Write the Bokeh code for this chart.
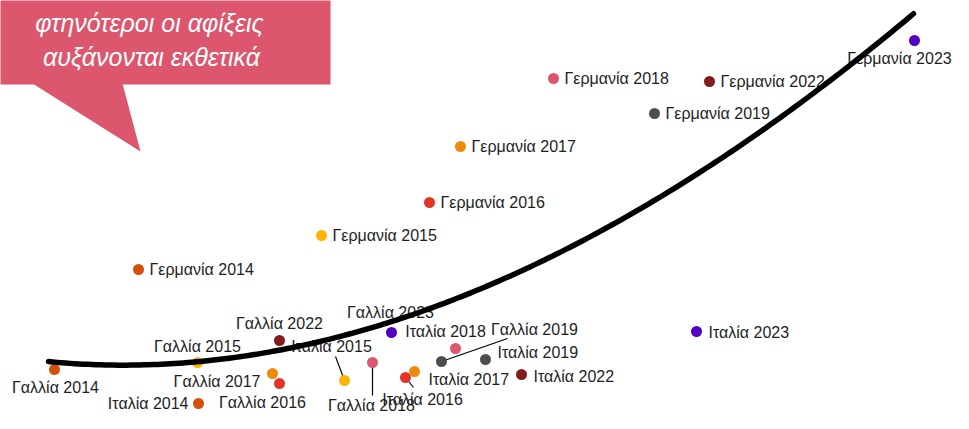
import numpy as np
from bokeh.plotting import figure
from bokeh.models import Range1d, BoxAnnotation, PolyAnnotation, Label
from bokeh.embed import file_html
from bokeh.resources import INLINE
from bokeh.core.properties import value

# ---------------- data ----------------
years = [2014, 2015, 2016, 2017, 2018, 2019, 2022, 2023]
year_colors = ["#D2500A", "#FFB400", "#E3342A", "#EB8C0A", "#DC566D", "#4D4D4D", "#821C1C", "#5200C2"]

# x: cost index, y: arrivals index (arbitrary units)
germany_x = [138, 321, 429, 460, 553, 654, 709, 914]
germany_y = [160, 194, 227, 283, 351, 316, 348, 389]
france_x = [54, 197, 279, 272, 372, 441, 279, 391]
france_y = [60, 67, 46, 56, 67, 68, 89, 97]
italy_x = [198, 344, 405, 414, 455, 485, 521, 696]
italy_y = [26, 49, 52, 58, 81, 70, 55, 98]

country_names = ["Γερμανία", "Γαλλία", "Ιταλία"]

# fitted trend, points (smoothed below)
trend_x = [48, 100, 150, 197, 240, 280, 330, 383, 440, 490, 540, 590, 640, 690, 740, 773, 800, 827, 850, 873, 913]
trend_y = [67, 65.5, 65.5, 67, 72, 80, 92, 106, 126, 144, 166, 191, 219, 252, 286, 309, 328, 347, 364, 382, 415]

callout_lines = ["φτηνότεροι οι αφίξεις", "αυξάνονται εκθετικά"]

# ---------------- label layout (screen px offsets: dx right, dy down) ----------------
germany_lab = [("left", 11, 0)] * 7 + [("center", -15, 17.5)]
france_lab = [("center", 1, 18), ("center", 0, -16), ("center", -17, 19), ("right", -12, 8),
              ("center", -1, 43), ("center", 93, -32), ("center", 0, -17), ("center", -1, -20)]
italy_lab = [("right", -10, 0), ("center", -13, -34), ("center", 17, 22), ("left", 14, 8),
             ("center", -10, -17), ("left", 12, -7), ("left", 12, 1.5), ("left", 12, 0.5)]
# leader lines: (country index, year index, dx, dy) of the end point
leaders = [(1, 4, 0, 33), (1, 5, 66, -23), (2, 1, -9, -24), (2, 2, 8, 10)]

xs_all = [germany_x, france_x, italy_x]
ys_all = [germany_y, france_y, italy_y]
labs_all = [germany_lab, france_lab, italy_lab]

W, H = 953, 413
p = figure(width=W, height=H, x_range=Range1d(0, W), y_range=Range1d(429 - H, 429),
           min_border=0, toolbar_location=None, output_backend="svg",
           x_axis_location=None, y_axis_location=None)
p.grid.visible = False
p.outline_line_color = None
p.background_fill_color = "white"
p.border_fill_color = "white"

# callout
pink = "#DC566D"
p.add_layout(BoxAnnotation(left=-20, right=330, bottom=345, top=450, fill_color=pink, fill_alpha=1,
                           line_color=None, level="underlay"))
p.add_layout(PolyAnnotation(xs=[32, 122, 140], ys=[346, 346, 278], fill_color=pink, fill_alpha=1,
                            line_color=None, level="underlay"))
for txt, cx, cy in zip(callout_lines, [149, 151], [406.5, 372.5]):
    p.add_layout(Label(x=cx, y=cy, text=txt, text_align="center", text_baseline="alphabetic",
                       text_font="Liberation Sans", text_font_style="italic",
                       text_font_size="25px", text_color="white"))

# leader lines
lx0, ly0, lx1, ly1 = [], [], [], []
for ci, yi, dx, dy in leaders:
    x0 = xs_all[ci][yi]
    y0 = ys_all[ci][yi]
    lx0.append(x0); ly0.append(y0); lx1.append(x0 + dx); ly1.append(y0 - dy)
p.segment(x0=lx0, y0=ly0, x1=lx1, y1=ly1, line_color="black", line_width=1.2)

# points
px, py, pc = [], [], []
for xs, ys in zip(xs_all, ys_all):
    px += xs; py += ys; pc += year_colors
p.scatter(x=px, y=py, size=11, fill_color=pc, line_color=None)

# labels
groups = {"left": ([], [], []), "center": ([], [], []), "right": ([], [], [])}
for name, xs, ys, labs in zip(country_names, xs_all, ys_all, labs_all):
    for yr, x, y, (al, dx, dy) in zip(years, xs, ys, labs):
        g = groups[al]
        g[0].append(x + dx); g[1].append(y - dy); g[2].append(f"{name} {yr}")
for al, (gx, gy, gt) in groups.items():
    p.text(x=gx, y=gy, text=gt, text_align=al, text_baseline="alphabetic",
           text_font=value("Liberation Sans"), text_font_size="16px", text_color="#1E1E1E")

# trend curve (smooth through the read points)
coef = np.polyfit(trend_x, trend_y, 3)
sx = np.linspace(min(trend_x), max(trend_x), 200)
p.line(x=sx, y=np.polyval(coef, sx), line_color="black", line_width=5.5, line_cap="round", line_join="round")

open("out.html", "w").write(file_html(p, INLINE))
